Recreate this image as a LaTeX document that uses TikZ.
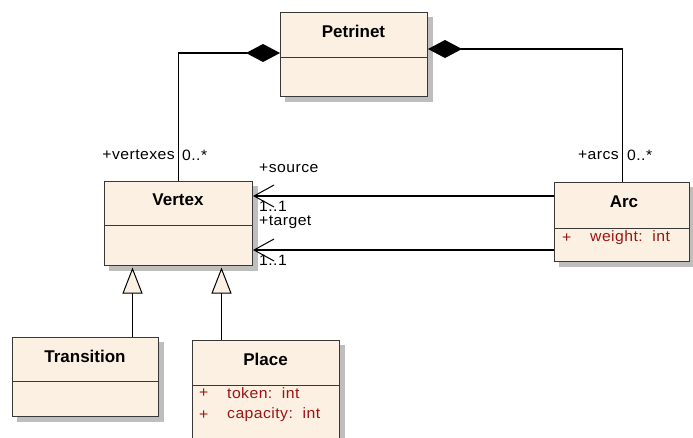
\documentclass[tikz,border=0pt]{standalone}
\usepackage{fontspec}
\setmainfont{Liberation Sans}
\newfontfamily\labelfont[FakeStretch=1.05,LetterSpace=3]{Liberation Sans}
\usetikzlibrary{arrows.meta}

\definecolor{classfill}{HTML}{FBF0E1}
\definecolor{classline}{HTML}{383838}
\definecolor{shadowgray}{HTML}{BEBEBE}
\definecolor{attrred}{HTML}{9E1414}

\pgfdeclarelayer{shadowlayer}
\pgfsetlayers{shadowlayer,main}

\tikzset{
  classbox/.style={draw=classline, line width=1pt, fill=classfill, anchor=north west,
    inner sep=0pt},
  boxshadow/.style={fill=shadowgray},
  classname/.style={font=\fontsize{17}{20}\selectfont\bfseries, inner sep=0pt},
  divider/.style={draw=classline, line width=1pt},
  attr/.style={font=\labelfont\fontsize{15}{17}\selectfont, text=attrred, anchor=west, inner sep=0pt},
  rolelabel/.style={font=\labelfont\fontsize{15}{17}\selectfont, inner sep=0pt},
  conn/.style={draw=black, line width=1.2pt},
  composite/.style={conn, {Diamond[length=34pt, width=18pt, fill=black]}-},
  navigable/.style={conn, -{Straight Barb[length=20pt, width=22pt, line width=1pt]}},
  generalize/.style={conn, -{Triangle[open, length=26pt, width=20pt, fill=classfill, line width=1pt]}}
}

% drop shadow behind a class box
\newcommand{\castshadow}[1]{%
  \begin{pgfonlayer}{shadowlayer}
    \fill[boxshadow] ([shift={(5pt,-5pt)}]#1.south west) rectangle ([shift={(5pt,-5pt)}]#1.north east);
  \end{pgfonlayer}}

\begin{document}
\begin{tikzpicture}[x=1pt, y=-1pt]
\useasboundingbox (0,0) rectangle (693,437);

% Petrinet
\node[classbox, minimum width=147pt, minimum height=84pt] (petri) at (280,12) {};
\castshadow{petri}
\draw[divider] (280,57) -- (427,57);
\node[classname] (petriname) at (353.5,31) {Petrinet};

% Vertex
\node[classbox, minimum width=148pt, minimum height=84pt] (vertex) at (104,181) {};
\castshadow{vertex}
\draw[divider] (104,225) -- (252,225);
\node[classname] (vertexname) at (178,200) {Vertex};

% Arc
\node[classbox, minimum width=135pt, minimum height=79pt] (arc) at (554,182) {};
\castshadow{arc}
\draw[divider] (554,228) -- (689,228);
\node[classname] (arcname) at (624,202) {Arc};
\node[attr] (arcplus) at (562,238) {+};
\node[attr] (arcweight) at (590,238) {weight:\ \ int};

% Transition
\node[classbox, minimum width=146pt, minimum height=79pt] (transition) at (12,337) {};
\castshadow{transition}
\draw[divider] (12,381) -- (158,381);
\node[classname] (transname) at (85,356) {Transition};

% Place
\node[classbox, minimum width=147pt, minimum height=110pt] (place) at (192,340) {};
\castshadow{place}
\draw[divider] (192,385) -- (339,385);
\node[classname] (placename) at (265.5,359) {Place};
\node[attr] (placeplus1) at (199,393) {+};
\node[attr] (placetoken) at (227,393) {token:\ \ int};
\node[attr] (placeplus2) at (199,415) {+};
\node[attr] (placecap) at (227,415) {capacity:\ \ int};

% Compositions
\draw[composite] ([yshift=-41pt]petri.north west) -| (vertex.north);
\draw[composite] ([yshift=-37pt]petri.north east) -| ([xshift=0.5pt]arc.north);

% Associations Arc -> Vertex
\draw[navigable] ([yshift=-14pt]arc.north west) -- ([yshift=-15pt]vertex.north east);
\draw[navigable] ([yshift=-68pt]arc.north west) -- ([yshift=-69pt]vertex.north east);

% Generalizations
\draw[generalize] ([xshift=47pt]transition.north) -- ([xshift=-46pt,yshift=-1.5pt]vertex.south);
\draw[generalize] ([xshift=-44.5pt]place.north) -- ([xshift=43pt,yshift=-1.5pt]vertex.south);

% Role names and multiplicities
\node[rolelabel, anchor=east] (rvert) at (175,155) {+vertexes};
\node[rolelabel, anchor=west] (mvert) at (182,155) {0..*};
\node[rolelabel, anchor=east] (rarcs) at (619,155) {+arcs};
\node[rolelabel, anchor=west] (marcs) at (627,155) {0..*};
\node[rolelabel, anchor=west] (rsrc) at (259,168) {+source};
\node[rolelabel, anchor=west] (msrc) at (259,206) {1..1};
\node[rolelabel, anchor=west] (rtgt) at (259,222) {+target};
\node[rolelabel, anchor=west] (mtgt) at (259,260) {1..1};
\end{tikzpicture}
\end{document}
